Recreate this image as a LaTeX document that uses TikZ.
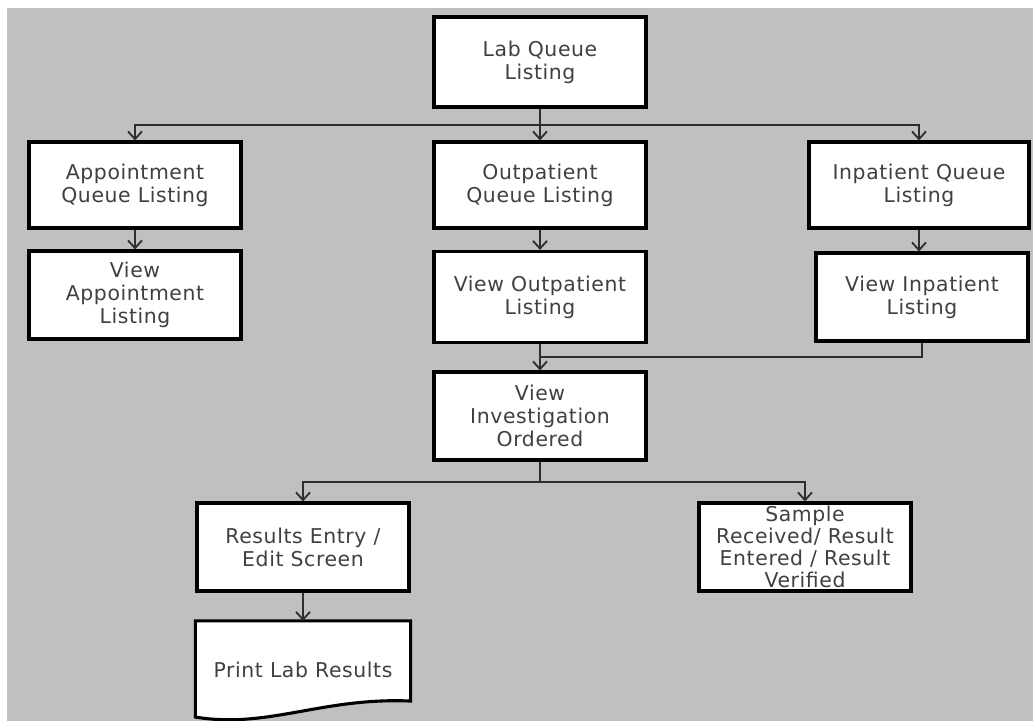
\documentclass[tikz,border=0pt]{standalone}
\usepackage{fontspec}
\newfontfamily\boxfont[LetterSpace=3]{DejaVu Sans}
\usetikzlibrary{arrows.meta, backgrounds}
\definecolor{PanelGray}{HTML}{C0C0C0}
\definecolor{LineGray}{HTML}{2E2E2E}
\definecolor{TextGray}{HTML}{404040}

\begin{document}
\begin{tikzpicture}[x=0.025cm, y=-0.025cm,
  box/.style={draw=black, line width=2.2pt, fill=white, align=center,
    minimum width=5.3cm, minimum height=2.2cm, inner sep=1pt,
    font=\boxfont\fontsize{14.5}{16.5}\selectfont, text=TextGray},
  conn/.style={draw=LineGray, line width=1.3pt},
  arr/.style={conn, -{Straight Barb[length=5.5pt, width=10pt]}}]
  \useasboundingbox (0,0) rectangle (1033,721);

  % Queue listings
  \node[box, minimum height=2.25cm] (lab) at (540,62) {Lab Queue\\Listing};
  \node[box, minimum height=2.15cm] (appt) at (135,185) {Appointment\\Queue Listing};
  \node[box, minimum height=2.15cm] (outq) at (540,185) {Outpatient\\Queue Listing};
  \node[box, minimum height=2.15cm, minimum width=5.5cm] (inq) at (919,185) {Inpatient Queue\\Listing};

  % View screens
  \node[box] (viewappt) at (135,295) {View\\Appointment\\Listing};
  \node[box, minimum height=2.275cm] (viewout) at (540,297) {View Outpatient\\Listing};
  \node[box] (viewin) at (922,297) {View Inpatient\\Listing};
  \node[box] (inv) at (540,416) {View\\Investigation\\Ordered};

  % Results
  \node[box] (results) at (303,547) {Results Entry /\\Edit Screen};
  \node[box, font=\boxfont\fontsize{14.5}{15.5}\selectfont] (sample) at (805,547)
    {Sample\\Received/ Result\\Entered / Result\\Verified};
  \node[box, draw=none, fill=none, minimum height=2.375cm] (print) at (303,670) {Print Lab Results};

  % Panel and document outline
  \begin{scope}[on background layer]
    \fill[PanelGray] (7,8) rectangle (1033,721);
    \draw[line width=2.2pt, fill=white]
      (print.north west) -- (print.north east) -- ([yshift=0.45cm]print.south east)
      .. controls ([xshift=-2.2cm, yshift=0.55cm]print.south east)
      and ([xshift=1.8cm, yshift=-0.25cm]print.south west) .. ([yshift=0.05cm]print.south west)
      -- cycle;
  \end{scope}

  % Connectors
  \coordinate (split) at (540,125);
  \coordinate (merge) at (540,357);
  \coordinate (fork) at (540,482);
  \draw[conn] (lab.south) -- (split);
  \draw[arr] (split) -| (appt.north);
  \draw[arr] (split) -- (outq.north);
  \draw[arr] (split) -| (inq.north);
  \draw[arr] (appt.south) -- (viewappt.north);
  \draw[arr] (outq.south) -- (viewout.north);
  \draw[arr] (inq.south) -- (inq.south |- viewin.north);
  \draw[arr] (viewout.south) -- (inv.north);
  \draw[conn] (viewin.south) |- (merge);
  \draw[conn] (inv.south) -- (fork);
  \draw[arr] (fork) -| (results.north);
  \draw[arr] (fork) -| (sample.north);
  \draw[arr] (results.south) -- (print.north);
\end{tikzpicture}
\end{document}
